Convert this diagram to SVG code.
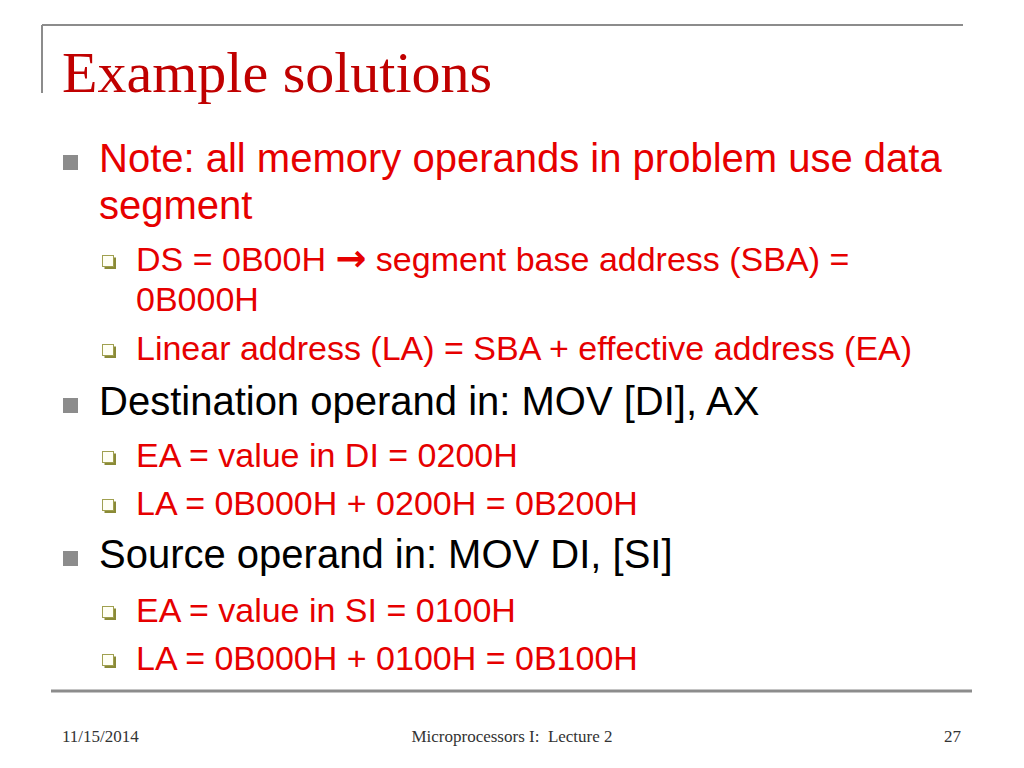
<svg xmlns="http://www.w3.org/2000/svg" width="1024" height="768" viewBox="0 0 1024 768">
  <defs>
    <style>
      .title { font-family: "Liberation Serif", "Times New Roman", serif; font-size: 58px; fill: #C00000; }
      .l1 { font-family: "Liberation Sans", Arial, sans-serif; font-size: 40px; }
      .l2 { font-family: "Liberation Sans", Arial, sans-serif; font-size: 34px; fill: #E60000; }
      .red { fill: #E60000; }
      .black { fill: #000000; }
      .foot { font-family: "Liberation Serif", "Times New Roman", serif; font-size: 17px; fill: #333333; white-space: pre; }
      .frame { stroke: #8C8C8C; fill: none; }
      .sq { fill: #8C8C8C; }
      .boxShadow { fill: #8A8A36; }
      .boxFront { fill: #FFFFF4; stroke: #A0A050; stroke-width: 1; }
      .arrow { font-family: "DejaVu Sans", sans-serif; font-weight: bold; font-size: 37px; }
    </style>
    <g id="b2">
      <rect class="boxShadow" x="2.5" y="2.5" width="11.5" height="11.5"/>
      <rect class="boxFront" x="0.5" y="0.5" width="11" height="11"/>
    </g>
    <rect id="b1" class="sq" x="0" y="0" width="15" height="15"/>
  </defs>

  <rect x="0" y="0" width="1024" height="768" fill="#FFFFFF"/>

  <g id="frame">
    <line class="frame" x1="42" y1="25" x2="963" y2="25" stroke-width="2"/>
    <line class="frame" x1="42" y1="25" x2="42" y2="93" stroke-width="2"/>
    <line class="frame" x1="51" y1="691" x2="972" y2="691" stroke-width="3"/>
  </g>

  <g id="title">
    <text class="title" x="62" y="92">Example solutions</text>
  </g>

  <g id="bullets">
    <use href="#b1" x="63" y="155"/>
    <use href="#b2" x="102" y="255"/>
    <use href="#b2" x="102" y="344"/>
    <use href="#b1" x="63" y="398"/>
    <use href="#b2" x="102" y="451"/>
    <use href="#b2" x="102" y="499"/>
    <use href="#b1" x="63" y="551"/>
    <use href="#b2" x="102" y="606"/>
    <use href="#b2" x="102" y="654"/>
  </g>

  <g id="body">
    <text class="l1 red" x="99" y="172">Note: all memory operands in problem use data</text>
    <text class="l1 red" x="99" y="219">segment</text>
    <text class="l2" x="136" y="271">DS = 0B00H <tspan class="arrow">→</tspan> segment base address (SBA) =</text>
    <text class="l2" x="136" y="311">0B000H</text>
    <text class="l2" x="136" y="360">Linear address (LA) = SBA + effective address (EA)</text>
    <text class="l1 black" x="99" y="415">Destination operand in: MOV [DI], AX</text>
    <text class="l2" x="136" y="467">EA = value in DI = 0200H</text>
    <text class="l2" x="136" y="515">LA = 0B000H + 0200H = 0B200H</text>
    <text class="l1 black" x="99" y="568">Source operand in: MOV DI, [SI]</text>
    <text class="l2" x="136" y="622">EA = value in SI = 0100H</text>
    <text class="l2" x="136" y="670">LA = 0B000H + 0100H = 0B100H</text>
  </g>

  <g id="footer">
    <text class="foot" x="62" y="742">11/15/2014</text>
    <text class="foot" x="512" y="742" text-anchor="middle" xml:space="preserve">Microprocessors I:  Lecture 2</text>
    <text class="foot" x="961" y="742" text-anchor="end">27</text>
  </g>
</svg>
